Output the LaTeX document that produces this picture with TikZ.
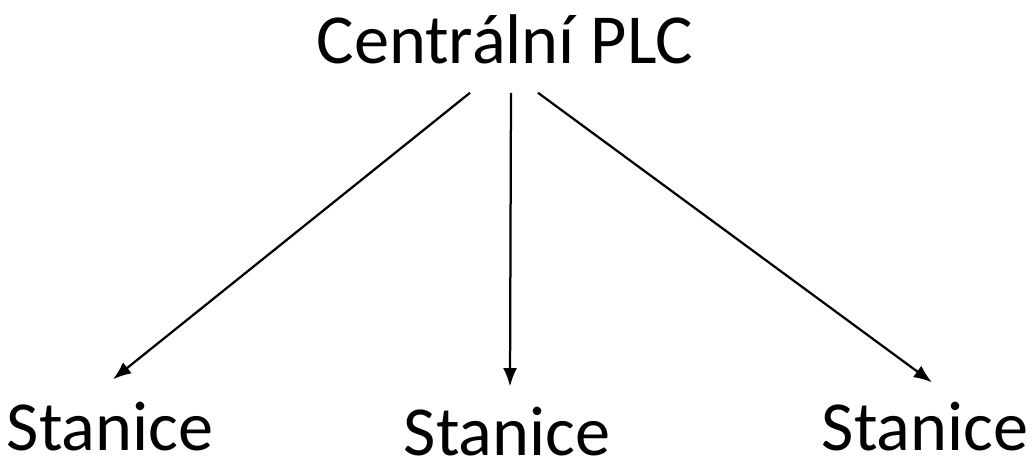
\documentclass[tikz,border=0pt]{standalone}
\usepackage{fontspec}
\setmainfont{Carlito}
\usetikzlibrary{calc,arrows.meta}
\begin{document}
\begin{tikzpicture}[x=0.025cm,y=-0.025cm,
		lbl/.style={anchor=base,inner sep=0pt,font=\fontsize{50}{60}\selectfont},
		arr/.style={-{Latex[length=13pt,width=10pt]},line width=1.6pt}]
		\useasboundingbox (0,0) rectangle (1035,461);
		
		\node[lbl] (plc) at (505,63) {Centrální PLC};
		
		\node[lbl] (s1) at (110,450) {Stanice};
		\node[lbl] (s2) at (507,455) {Stanice};
		\node[lbl] (s3) at (925,450) {Stanice};
		
		\draw[arr] ($(plc.south)+(-35,29)$) -- ($(s1.north)+(3,-22)$);
		\draw[arr] ($(plc.south)+(6,29)$) -- ($(s2.north)+(3,-20)$);
		\draw[arr] ($(plc.south)+(33,29)$) -- ($(s3.north)+(7,-19)$);
	\end{tikzpicture}
\end{document}
